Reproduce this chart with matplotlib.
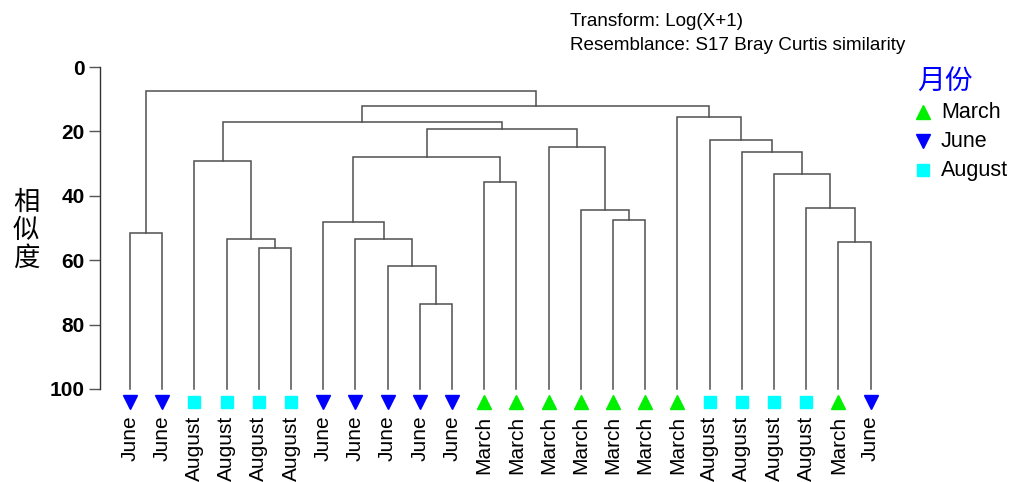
import matplotlib
matplotlib.use("Agg")
import matplotlib.pyplot as plt
from matplotlib.lines import Line2D

# ---- data ----
leaf_labels = ["June", "June", "August", "August", "August", "August",
               "June", "June", "June", "June", "June",
               "March", "March", "March", "March", "March", "March", "March",
               "August", "August", "August", "August", "March", "June"]
# merges: (child_a, child_b, similarity); new nodes numbered from 24 upward
merge_a = [9, 8, 7, 6, 11, 27, 15, 14, 13, 29, 4, 3, 2, 36, 22, 21, 20, 19, 18, 17, 37, 0, 45]
merge_b = [10, 24, 25, 26, 12, 28, 16, 30, 31, 32, 5, 34, 35, 33, 23, 38, 39, 40, 41, 42, 43, 1, 44]
merge_sim = [73.5, 61.8, 53.5, 48.1, 35.7, 27.9, 47.5, 44.5, 24.9, 19.1,
             56.3, 53.3, 29.1, 17.1, 54.5, 43.8, 33.3, 26.3, 22.8, 15.5, 12.2, 51.5, 7.6]
months = ["March", "June", "August"]
month_colors = ["#00F000", "#0000FF", "#00FFFF"]
month_markers = ["^", "v", "s"]
yticks = [0, 20, 40, 60, 80, 100]

plt.rcParams['font.family'] = ['Liberation Sans', 'Noto Sans CJK SC', 'DejaVu Sans']

fig = plt.figure(figsize=(10.11, 4.82), dpi=100)
W, H = 1011, 482
ax = fig.add_axes([100 / W, 1 - 389 / H, 800 / W, (389 - 67) / H])

n = len(leaf_labels)
xpos = {i: float(i) for i in range(n)}
ypos = {i: 100.0 for i in range(n)}
line_col = "#505050"
for k, (a, b, s) in enumerate(zip(merge_a, merge_b, merge_sim)):
    node = n + k
    xa, xb = xpos[a], xpos[b]
    ax.plot([xa, xa, xb, xb], [ypos[a], s, s, ypos[b]], color=line_col, lw=1.1,
            solid_joinstyle='miter', clip_on=False)
    xpos[node] = (xa + xb) / 2
    ypos[node] = s


def msize(mk):
    return 9 if mk == "s" else 10.5


for i, lab in enumerate(leaf_labels):
    m = months.index(lab)
    ax.plot([i], [104], marker=month_markers[m], color=month_colors[m],
            markersize=msize(month_markers[m]), linestyle='none', clip_on=False)

sp = 32.2
ax.set_xlim(-30 / sp, -30 / sp + 800 / sp)
ax.set_ylim(100, 0)
for s_ in ["top", "right", "bottom"]:
    ax.spines[s_].set_visible(False)
ax.spines["left"].set_color("#333333")
ax.spines["left"].set_linewidth(1.0)
ax.set_yticks(yticks)
ax.set_yticklabels([str(t) for t in yticks], fontsize=15, fontweight='bold')
ax.tick_params(axis='y', length=8, width=1.0, color="#555555", pad=3)
ax.set_xticks(range(n))
ax.set_xticklabels(leaf_labels, rotation=90, fontsize=15, va='top')
ax.tick_params(axis='x', length=0, pad=19)

fig.text(26 / W, 1 - 230 / H, "相\n似\n度", fontsize=19, ha='center', va='center',
         family=['Noto Sans CJK SC'], linespacing=1.05)

fig.text(570 / W, 1 - 22 / H, "Transform: Log(X+1)", fontsize=13.6, ha='left', va='center')
fig.text(570 / W, 1 - 46 / H, "Resemblance: S17 Bray Curtis similarity", fontsize=13.6,
         ha='left', va='center')

# legend (drawn manually)
fig.text(917 / W, 1 - 81 / H, "月份", fontsize=20, color="#0000FF", ha='left', va='center',
         family=['Noto Sans CJK SC'])
for i, mname in enumerate(months):
    yy = 1 - (112 + 29 * i) / H
    fig.add_artist(Line2D([923 / W], [yy], marker=month_markers[i], color=month_colors[i],
                          markersize=msize(month_markers[i]), linestyle='none',
                          transform=fig.transFigure))
    fig.text(941 / W, yy, mname, fontsize=15.5, ha='left', va='center')

fig.savefig("out.png", dpi=100)
